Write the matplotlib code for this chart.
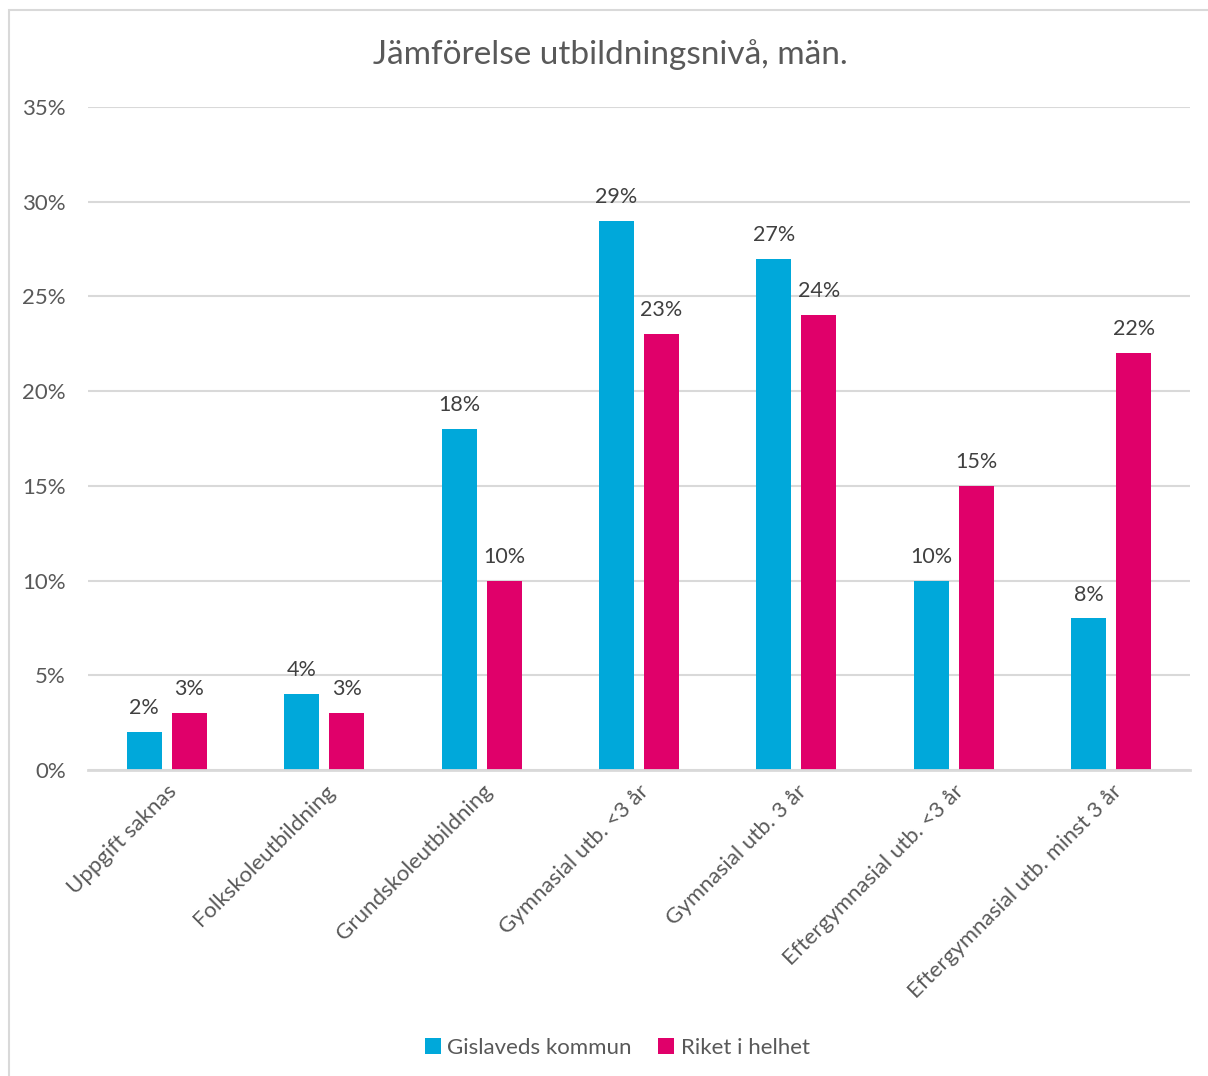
import numpy as np
import matplotlib.pyplot as plt
from matplotlib.patches import Rectangle
from matplotlib.ticker import FuncFormatter

plt.rcParams['font.family'] = ['Lato', 'DejaVu Sans']

kategorier = ['Uppgift saknas', 'Folkskoleutbildning', 'Grundskoleutbildning',
              'Gymnasial utb. <3 år', 'Gymnasial utb. 3 år',
              'Eftergymnasial utb. <3 år', 'Eftergymnasial utb. minst 3 år']
gislaved = [2, 4, 18, 29, 27, 10, 8]
riket = [3, 3, 10, 23, 24, 15, 22]
serier = ['Gislaveds kommun', 'Riket i helhet']

bla = '#00A8DA'
rosa = '#E0006A'
grid = '#D9D9D9'
textfarg = '#595959'

fig = plt.figure(figsize=(12.08, 10.76), dpi=100)
# ram runt diagrammet
fig.patches.append(Rectangle((9 / 1208, -0.05), 1.1, 1 - 10 / 1076 + 0.05,
                             transform=fig.transFigure, fill=False,
                             edgecolor='#D9D9D9', lw=1.5))

ax = fig.add_axes([88 / 1208, 1 - 770 / 1076, 1102 / 1208, 663 / 1076])

x = np.arange(len(kategorier))
w = 0.222
off = 0.143
b1 = ax.bar(x - off, gislaved, w, color=bla, label=serier[0], zorder=3)
b2 = ax.bar(x + off, riket, w, color=rosa, label=serier[1], zorder=3)

for bars, vals in [(b1, gislaved), (b2, riket)]:
    for b, v in zip(bars, vals):
        ax.annotate(f'{v}%', (b.get_x() + b.get_width() / 2, v),
                    xytext=(0, 10), textcoords='offset points',
                    ha='center', va='bottom', fontsize=15.5, color='#404040')

ax.set_xlim(-0.5, 6.5)
ax.set_ylim(0, 35)
ax.set_yticks(range(0, 36, 5))
ax.yaxis.set_major_formatter(FuncFormatter(lambda v, p: f'{int(v)}%'))
ax.grid(axis='y', color=grid, lw=1.5, zorder=0)
for s in ['top', 'right', 'left']:
    ax.spines[s].set_visible(False)
ax.spines['bottom'].set_color(grid)
ax.spines['bottom'].set_linewidth(2)
ax.spines['bottom'].set_zorder(4)
ax.tick_params(axis='both', length=0, labelsize=16, colors=textfarg, pad=8)
ax.tick_params(axis='y', pad=16)
ax.set_xticks(x)
ax.set_xticklabels(kategorier, rotation=45, ha='right', rotation_mode='anchor')

fig.text(0.505, 1 - 55 / 1076, 'Jämförelse utbildningsnivå, män.', ha='center',
         va='center', fontsize=24, color=textfarg)

fig.legend(handles=[b1, b2], labels=serier, loc='center',
           bbox_to_anchor=(0.511, 1 - 1048 / 1076), ncol=2, frameon=False,
           fontsize=16, labelcolor=textfarg, handlelength=0.7, handleheight=0.7,
           handletextpad=0.3, columnspacing=1.2)

fig.savefig('out.png', dpi=100)
